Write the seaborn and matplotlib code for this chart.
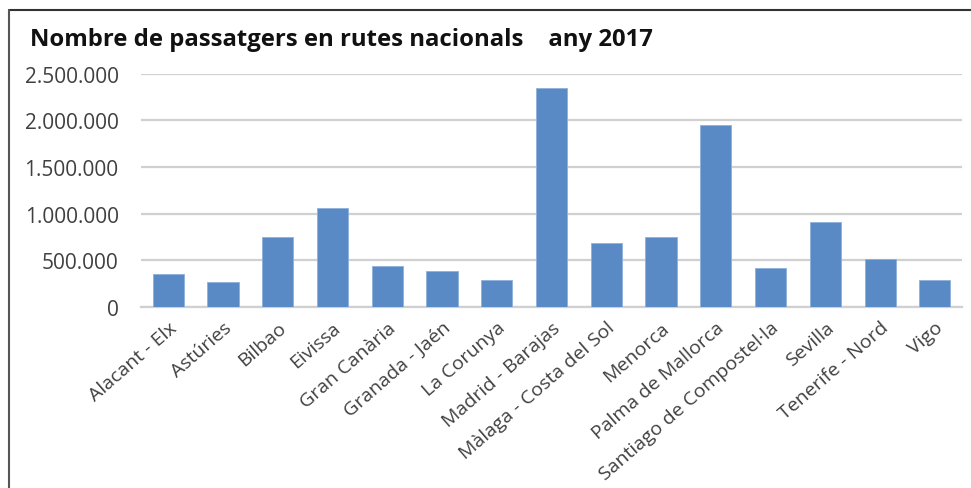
import matplotlib
matplotlib.use("Agg")
import matplotlib.pyplot as plt
import seaborn as sns
from matplotlib.ticker import FuncFormatter, MultipleLocator
from matplotlib.lines import Line2D

# data
airports = ['Alacant - Elx', 'Astúries', 'Bilbao', 'Eivissa', 'Gran Canària',
            'Granada - Jaén', 'La Corunya', 'Madrid - Barajas', 'Màlaga - Costa del Sol',
            'Menorca', 'Palma de Mallorca', 'Santiago de Compostel·la', 'Sevilla',
            'Tenerife - Nord', 'Vigo']
passengers = [354000, 269000, 756000, 1060000, 440000,
              384000, 287000, 2347000, 689000,
              750000, 1954000, 418000, 911000,
              517000, 289000]

sns.set_style('white')
plt.rcParams['font.family'] = ['Open Sans', 'DejaVu Sans']

fig = plt.figure(figsize=(9.71, 4.89), dpi=100)
ax = fig.add_axes([0.145, 0.370, 0.846, 0.477])

sns.barplot(x=airports, y=passengers, color='#5A8AC6', width=0.57,
            saturation=1, edgecolor='#8DB0DA', linewidth=0.6, ax=ax, zorder=3)

ax.set_ylim(0, 2500000)
ax.set_xlim(-0.5, len(airports) - 0.5)
ax.yaxis.set_major_locator(MultipleLocator(500000))
ax.yaxis.set_major_formatter(FuncFormatter(lambda v, p: f'{int(v):,}'.replace(',', '.')))
ax.grid(axis='y', color='#D0D0D0', linewidth=1.6, zorder=0)
ax.set_axisbelow(True)

for s in ['top', 'right', 'left']:
    ax.spines[s].set_visible(False)
ax.spines['bottom'].set_color('#D0D0D0')
ax.spines['bottom'].set_linewidth(1.6)

ax.tick_params(axis='y', length=0, pad=16, labelsize=15, labelcolor='#404040')
ax.tick_params(axis='x', length=0, pad=8, labelsize=14, labelcolor='#404040')
plt.setp(ax.get_xticklabels(), rotation=41, ha='right', rotation_mode='anchor')

fig.text(0.031, 0.918, 'Nombre de passatgers en rutes nacionals    any 2017',
         fontsize=17.2, fontweight='bold', color='#111111', va='center')

# outer frame of the screenshot
fig.add_artist(Line2D([0.009, 1.0], [0.978, 0.978], color='#333333', linewidth=1.5))
fig.add_artist(Line2D([0.009, 0.009], [0.0, 0.978], color='#555555', linewidth=1.5))

fig.savefig('out.png', dpi=100)
